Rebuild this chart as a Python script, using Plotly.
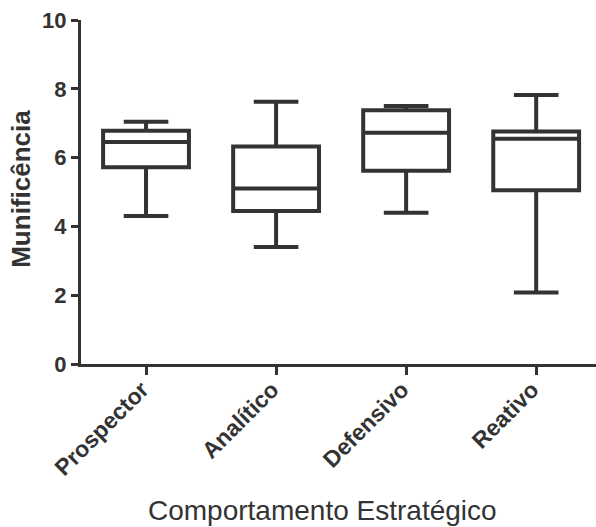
import plotly.graph_objects as go

categories = ["Prospector", "Analítico", "Defensivo", "Reativo"]
lower_fence = [4.30, 3.40, 4.40, 2.08]
q1 = [5.72, 4.45, 5.62, 5.05]
median = [6.45, 5.10, 6.72, 6.55]
q3 = [6.78, 6.32, 7.38, 6.76]
upper_fence = [7.04, 7.62, 7.50, 7.82]
y_ticks = [0, 2, 4, 6, 8, 10]

ink = "#333333"
font_family = "Liberation Sans, Arial, sans-serif"

fig = go.Figure()
fig.add_trace(go.Box(
    x=categories,
    lowerfence=lower_fence,
    q1=q1,
    median=median,
    q3=q3,
    upperfence=upper_fence,
    fillcolor="white",
    line=dict(color=ink, width=4),
    whiskerwidth=0.52,
    width=0.66,
    boxpoints=False,
    showlegend=False,
    hoverinfo="skip",
))

fig.update_layout(
    width=596,
    height=527,
    margin=dict(l=81, r=0, t=20, b=163),
    paper_bgcolor="white",
    plot_bgcolor="white",
    font=dict(family=font_family, color=ink),
    xaxis=dict(
        range=[-0.5, 3.46],
        showline=True,
        linecolor=ink,
        linewidth=3,
        ticks="outside",
        ticklen=8,
        tickwidth=3,
        tickcolor=ink,
        tickangle=-45,
        ticklabelstandoff=-8,
        ticklabelshift=-4,
        tickfont=dict(size=23, family=font_family, color=ink, weight="bold"),
        showgrid=False,
        zeroline=False,
        fixedrange=True,
    ),
    yaxis=dict(
        range=[0, 10],
        tickvals=y_ticks,
        ticktext=[str(v) for v in y_ticks],
        showline=True,
        linecolor=ink,
        linewidth=3,
        ticks="outside",
        ticklen=7,
        tickwidth=3,
        tickcolor=ink,
        tickfont=dict(size=22, family=font_family, color=ink, weight="bold"),
        showgrid=False,
        zeroline=False,
        fixedrange=True,
    ),
    annotations=[
        dict(
            text="Comportamento Estratégico",
            xref="paper", yref="paper",
            x=0.468, y=-0.427,
            xanchor="center", yanchor="middle",
            showarrow=False,
            font=dict(size=28, family=font_family, color=ink),
        ),
        dict(
            text="Munificência",
            xref="paper", yref="paper",
            x=-0.118, y=0.51,
            xanchor="center", yanchor="middle",
            textangle=-90,
            showarrow=False,
            font=dict(size=26, family=font_family, color=ink, weight="bold"),
        ),
    ],
)

fig.write_html("out.html", config={"displayModeBar": False},
               post_script="document.body.style.margin='0';")
